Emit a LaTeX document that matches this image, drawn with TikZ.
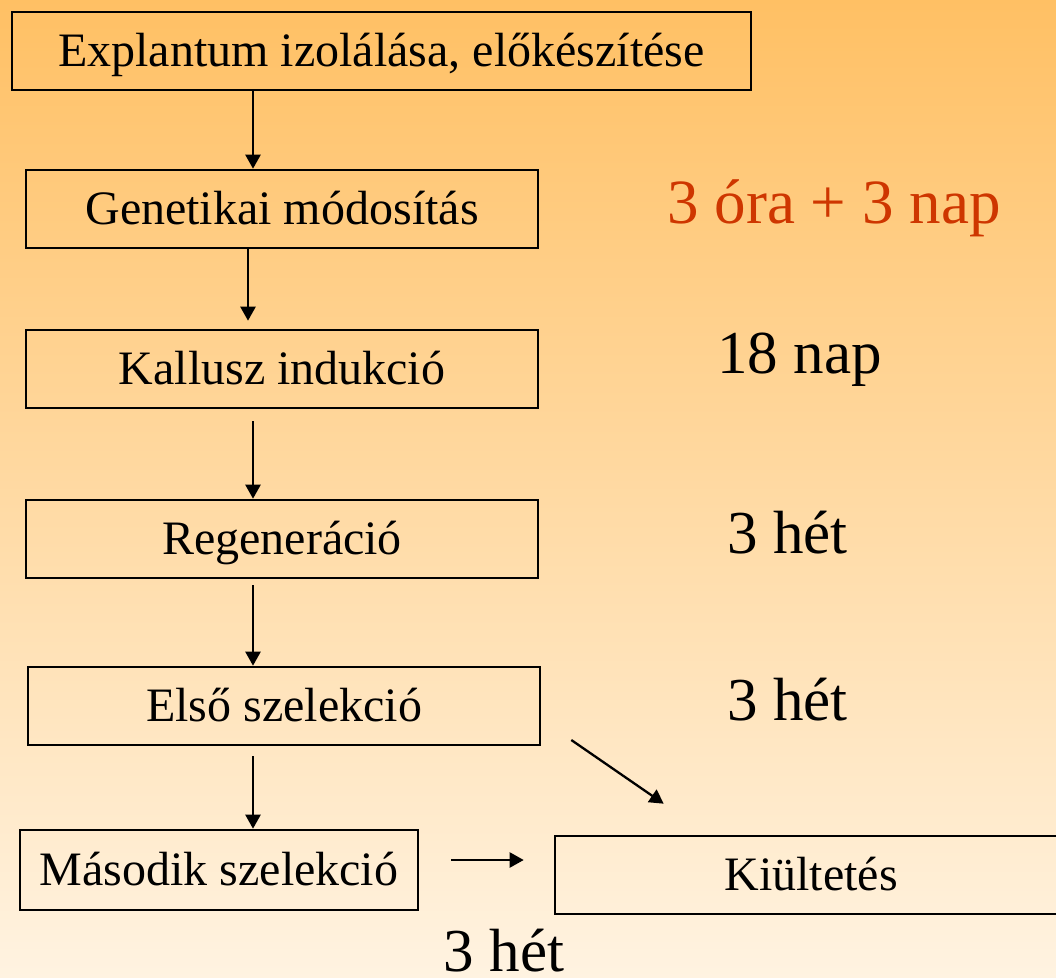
\documentclass[tikz,border=0pt]{standalone}
\usepackage{fontspec}
\setmainfont{Liberation Serif}
\usetikzlibrary{calc,arrows.meta}
\definecolor{bgtop}{RGB}{255,192,100}
\definecolor{bgmid}{RGB}{255,224,172}
\definecolor{bgbot}{RGB}{255,243,225}
\definecolor{durred}{RGB}{206,54,0}
\begin{document}
\begin{tikzpicture}[x=1pt, y=-1pt,
				    stage/.style={draw, line width=2.6pt, fill=none, inner sep=0pt,
				    			  minimum height=78pt, text height=31pt, text depth=0pt,
				    			  font=\fontsize{48}{52}\selectfont, text=black},
				    dur/.style={anchor=base, inner sep=0pt, font=\fontsize{61}{64}\selectfont},
				    arr/.style={line width=2.3pt, -{Triangle[length=14pt, width=15pt]}}]
	\useasboundingbox (0,0) rectangle (1056,977);
	\clip (0,0) rectangle (1056,977);
	\shade[top color=bgtop, middle color=bgmid, bottom color=bgbot] (0,0) rectangle (1056,977);

	\node[stage, minimum width=739pt] (b1) at (381.5, 51) {Explantum izolálása, előkészítése};
	\node[stage, minimum width=512pt] (b2) at (282, 209) {Genetikai módosítás};
	\node[stage, minimum width=512pt] (b3) at (282, 369) {Kallusz indukció};
	\node[stage, minimum width=512pt] (b4) at (282, 539) {Regeneráció};
	\node[stage, minimum width=512pt] (b5) at (284, 706) {Első szelekció};
	\node[stage, minimum width=398pt, minimum height=80pt] (b6) at (219, 870) {Második szelekció};
	\node[stage, minimum width=512pt] (b7) at (811, 875) {Kiültetés};

	\node[dur, text=durred, font=\fontsize{63}{66}\selectfont] (t1) at (834, 223) {3 óra + 3 nap};
	\node[dur] (t2) at (799.5, 373) {18 nap};
	\node[dur] (t3) at (787.5, 553) {3 hét};
	\node[dur] (t4) at (787.5, 720) {3 hét};
	\node[dur] (t5) at (504, 971) {3 hét};

	\coordinate (spine) at (253, 0);
	\draw[arr] (b1.south -| spine) -- (b2.north -| spine);
	\draw[arr] ($(b2.south -| spine)+(-5,0)$) -- ($(b3.north -| spine)+(-5,-8)$);
	\draw[arr] ($(b3.south -| spine)+(0,12)$) -- (b4.north -| spine);
	\draw[arr] ($(b4.south -| spine)+(0,6)$) -- (b5.north -| spine);
	\draw[arr] ($(b5.south -| spine)+(0,10)$) -- (b6.north -| spine);
	\draw[arr] ($(b5.east)+(30,34)$) -- ($(b7.north west)+(110,-31)$);
	\draw[arr] ($(b6.east)+(32,-10)$) -- ($(b7.west)+(-30,-15)$);
\end{tikzpicture}
\end{document}
